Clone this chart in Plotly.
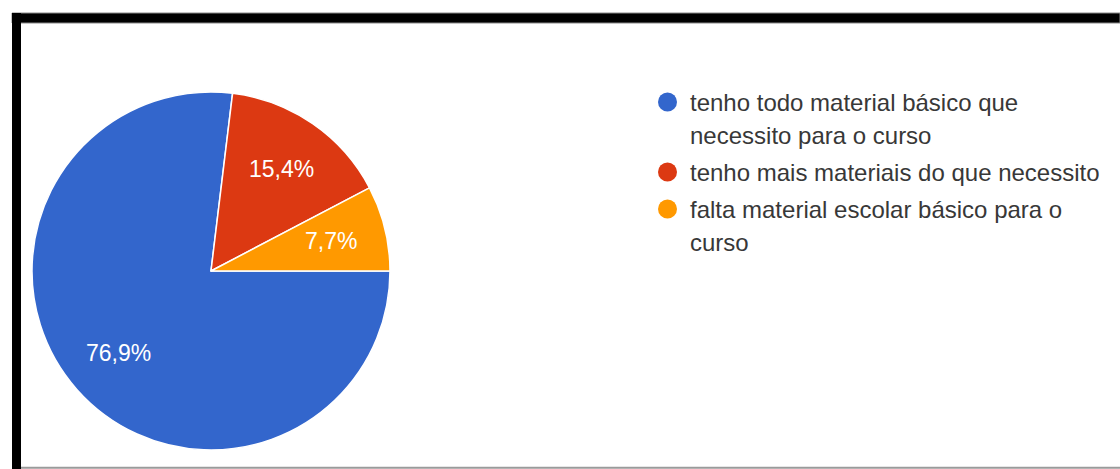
import math
import plotly.graph_objects as go

# Survey answers about school supplies (13 responses)
categories = [
    "tenho todo material básico que<br>necessito para o curso",
    "tenho mais materiais do que necessito",
    "falta material escolar básico para o<br>curso",
]
responses = [10, 2, 1]
colors = ["#3366CC", "#DC3912", "#FF9900"]

W, H = 1120, 469
FONT = "Liberation Sans, Arial, sans-serif"

# pie geometry in pixels (paper coordinates, origin top-left)
CX, CY, R = 211, 271, 179
LABEL_R = 0.69 * R

fig = go.Figure()

fig.add_trace(go.Pie(
    labels=[c.replace("<br>", " ") for c in categories],
    values=responses,
    sort=False,
    direction="clockwise",
    rotation=90,
    marker=dict(colors=colors, line=dict(color="white", width=1.5)),
    textinfo="none",
    domain=dict(x=[(CX - R) / W, (CX + R) / W], y=[(H - CY - R) / H, (H - CY + R) / H]),
    showlegend=False,
    hoverinfo="label+percent",
))

shapes = [
    # frame: thick black top and left edges, thin grey bottom line
    dict(type="rect", xref="paper", yref="paper",
         x0=12 / W, x1=1.0, y0=(H - 23) / H, y1=(H - 13) / H,
         fillcolor="black", line=dict(color="#888888", width=1)),
    dict(type="rect", xref="paper", yref="paper",
         x0=12 / W, x1=21 / W, y0=0, y1=(H - 13) / H,
         fillcolor="black", line=dict(color="black", width=0)),
    dict(type="line", xref="paper", yref="paper",
         x0=21 / W, x1=1.0, y0=1.2 / H, y1=1.2 / H,
         line=dict(color="#9a9a9a", width=2)),
]

annotations = []

# percentage labels at each slice's mid-angle (slices run clockwise from 3 o'clock)
total = sum(responses)
start = 0.0
for v in responses:
    share = v / total
    mid = (start + share / 2) * 2 * math.pi
    px = CX + LABEL_R * math.cos(mid)
    py = CY + LABEL_R * math.sin(mid)
    annotations.append(dict(
        xref="paper", yref="paper", x=px / W, y=(H - py) / H,
        xanchor="center", yanchor="middle", showarrow=False,
        text=f"{share * 100:.1f}%".replace(".", ","),
        font=dict(family=FONT, size=23, color="white"),
    ))
    start += share

# legend: coloured dots with wrapped labels
line_h = 33
y = 102
for name, col in zip(categories, colors):
    shapes.append(dict(type="circle", xref="paper", yref="paper",
                       x0=(667.5 - 9.5) / W, x1=(667.5 + 9.5) / W,
                       y0=(H - y - 9.5) / H, y1=(H - y + 9.5) / H,
                       fillcolor=col, line=dict(color=col, width=0)))
    for part in name.split("<br>"):
        annotations.append(dict(
            xref="paper", yref="paper", x=688 / W, y=(H - y) / H,
            xanchor="left", yanchor="middle", showarrow=False,
            text=part, font=dict(family=FONT, size=24, color="#383838"),
        ))
        y += line_h
    y += 4

fig.update_layout(
    width=W, height=H,
    margin=dict(l=0, r=0, t=0, b=0),
    paper_bgcolor="white",
    plot_bgcolor="white",
    separators=",.",
    shapes=shapes,
    annotations=annotations,
)

fig.write_html("out.html")
